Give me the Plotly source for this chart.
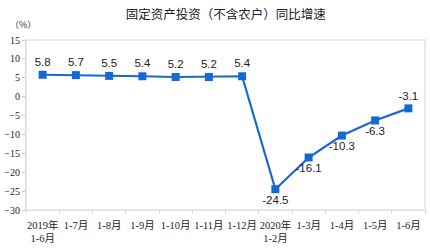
import plotly.graph_objects as go

categories = ["2019年<br>1-6月", "1-7月", "1-8月", "1-9月", "1-10月", "1-11月", "1-12月",
              "2020年<br>1-2月", "1-3月", "1-4月", "1-5月", "1-6月"]
values = [5.8, 5.7, 5.5, 5.4, 5.2, 5.2, 5.4, -24.5, -16.1, -10.3, -6.3, -3.1]
label_pos = ["top center"] * 7 + ["bottom center"] * 4 + ["top center"]
y_ticks = [15, 10, 5, 0, -5, -10, -15, -20, -25, -30]

x_idx = list(range(len(categories)))

fig = go.Figure()
fig.add_trace(go.Scatter(
    x=x_idx, y=values, mode="lines+markers+text",
    line=dict(color="#1668d2", width=2.2),
    marker=dict(symbol="square", size=8, color="#1668d2"),
    text=[str(v) for v in values], textposition=label_pos,
    textfont=dict(family="Liberation Sans, Arial, sans-serif", size=11.5, color="#222"),
    cliponaxis=False, showlegend=False,
))

fig.update_layout(
    width=430, height=248,
    margin=dict(l=26, r=5, t=40, b=38),
    paper_bgcolor="white", plot_bgcolor="white",
    title=dict(text="固定资产投资（不含农户）同比增速", x=0.525, xanchor="center", y=0.94, yanchor="middle",
               font=dict(family="Noto Sans CJK SC", size=12.5, color="#222")),
    shapes=[dict(type="rect", xref="paper", yref="paper", x0=0, x1=1, y0=0, y1=1,
                 line=dict(color="#e3e3e3", width=1.5))],
    annotations=[dict(text="（%）", xref="paper", yref="paper", x=-0.045, y=1.09,
                      xanchor="left", yanchor="middle", showarrow=False,
                      font=dict(family="Noto Sans CJK SC", size=9, color="#333"))],
)
fig.update_xaxes(
    range=[-0.5, len(categories) - 0.5], tickmode="array", tickvals=x_idx, ticktext=categories,
    showgrid=False, zeroline=False, showline=True, linecolor="#d6d6d6", linewidth=1,
    ticks="", ticklabelstandoff=5,
    tickfont=dict(family="Liberation Serif, Noto Sans CJK SC", size=10.5, color="#222"),
    minor=dict(tickvals=[i - 0.5 for i in range(len(categories) + 1)],
               ticks="outside", ticklen=3, tickcolor="#d6d6d6"),
)
fig.update_yaxes(
    range=[-30, 15], tickvals=y_ticks, showgrid=False, zeroline=False,
    showline=True, linecolor="#c8c8c8", linewidth=1,
    ticks="outside", ticklen=3, tickcolor="#c8c8c8",
    tickfont=dict(family="Liberation Serif, serif", size=10, color="#222"),
)

fig.write_html("out.html")
